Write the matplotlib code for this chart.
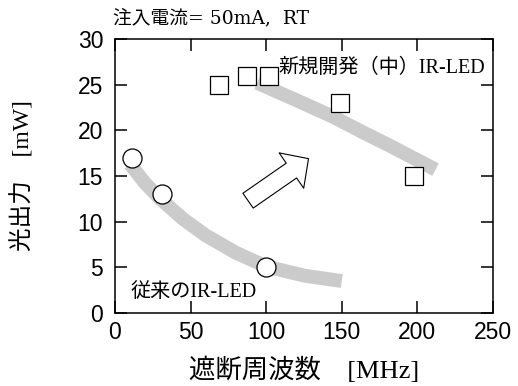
import matplotlib
matplotlib.use("Agg")
import matplotlib.pyplot as plt

# measured points (cut-off frequency [MHz], optical output [mW])
old_freq = [11, 31, 100]
old_power = [17, 13, 5]
new_freq = [69, 87, 102, 149, 198]
new_power = [25, 26, 26, 23, 15]

# gray guide bands
old_band_freq = [10, 20, 30, 45, 60, 80, 100, 125, 150]
old_band_power = [16.3, 14.2, 12.5, 10.3, 8.5, 6.6, 5.1, 4.1, 3.5]
new_band_freq = [94, 120, 144, 165, 182, 212]
new_band_power = [25.2, 23.3, 21.5, 19.7, 18.3, 15.7]

x_ticks = [0, 50, 100, 150, 200, 250]
y_ticks = [0, 5, 10, 15, 20, 25, 30]

jp = ['Liberation Serif', 'Noto Sans CJK JP']
jp_wide = ['DejaVu Serif', 'Noto Sans CJK JP']

fig = plt.figure(figsize=(5.18, 3.86), dpi=100)
ax = fig.add_axes([0.222, 0.189, 0.7297, 0.710])

ax.plot(old_band_freq, old_band_power, color='#cbcbcb', lw=10,
        solid_capstyle='butt', zorder=1)
ax.plot(new_band_freq, new_band_power, color='#cbcbcb', lw=10,
        solid_capstyle='butt', zorder=1)

ax.plot(old_freq, old_power, 'o', ms=13.7, mfc='white', mec='black',
        mew=0.9, ls='none', zorder=3)
ax.plot(new_freq, new_power, 's', ms=13.3, mfc='white', mec='black',
        mew=0.9, ls='none', zorder=3)

# hollow arrow
ax.annotate('', xy=(128, 16.9), xytext=(88, 12.3),
            arrowprops=dict(arrowstyle='simple,head_length=1.5,head_width=3.1,tail_width=1.3',
                            fc='white', ec='black', lw=0.8, mutation_scale=10,
                            shrinkA=0, shrinkB=0), zorder=2)

ax.text(108, 26.8, '新規開発（中）IR-LED', fontsize=14.5, family=jp,
        ha='left', va='center')
ax.text(10, 2.3, '従来のIR-LED', fontsize=14.5, family=jp,
        ha='left', va='center')
ax.text(-0.005, 1.077, '注入電流= 50mA,  RT', fontsize=13.5, family=jp_wide,
        ha='left', va='center', transform=ax.transAxes)

ax.set_xlim(0, 250)
ax.set_ylim(0, 30)
ax.set_xticks(x_ticks)
ax.set_yticks(y_ticks)
ax.tick_params(direction='in', length=8.6, width=1.1, top=True, right=True,
               labelsize=16.5)
ax.tick_params(axis='x', pad=6)
ax.tick_params(axis='y', pad=8.5)
for lab in ax.get_xticklabels() + ax.get_yticklabels():
    lab.set_family('Liberation Sans')
for s in ax.spines.values():
    s.set_linewidth(1.1)

ax.set_xlabel('遮断周波数　[MHz]', fontsize=19, family=jp, labelpad=9)
ax.set_ylabel('光出力　[mW]', fontsize=17, family=jp, labelpad=31)

fig.savefig('out.png', dpi=100)
